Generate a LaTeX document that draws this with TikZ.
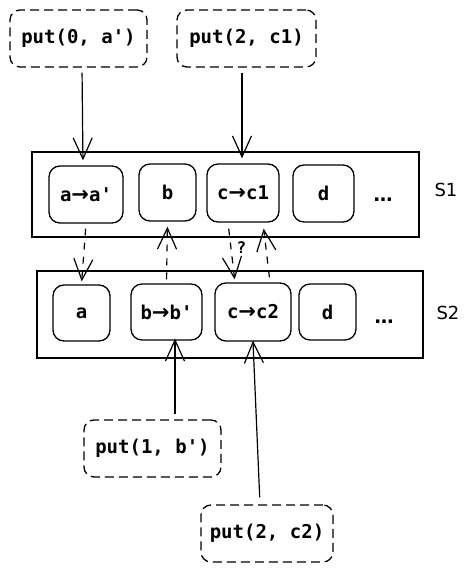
\documentclass[tikz,border=0pt]{standalone}
\usepackage{fontspec}
\setmonofont{DejaVu Sans Mono}
\setsansfont{DejaVu Sans}
\newfontfamily\arwfont{DejaVu Sans}
\newcommand{\myarw}{{\arwfont\bfseries\fontsize{21}{22}\selectfont →}}
\newcommand{\mydots}{{\arwfont\bfseries …}}
\usetikzlibrary{arrows.meta}
\begin{document}
\begin{tikzpicture}[x=1pt,y=-1pt,
  every node/.style={font=\ttfamily\bfseries\fontsize{19}{22}\selectfont, inner sep=0pt},
  putbox/.style={draw, dashed, dash pattern=on 9pt off 5pt, line width=1.3pt, rounded corners=10pt},
  cell/.style={draw, line width=1.3pt, rounded corners=11pt},
  frame/.style={draw, line width=1.3pt},
  arr/.style={line width=1.2pt, -{Straight Barb[length=21pt,width=19pt,line width=1.2pt]}},
  darr/.style={arr, dashed, dash pattern=on 7pt off 7pt},
  lbl/.style={font=\sffamily\fontsize{18}{20}\selectfont}
]
\useasboundingbox (0,0) rectangle (474,572);
% top put boxes
\node[putbox, minimum width=137pt, minimum height=57pt] (p0) at (78.5,38.5) {put(0, a')};
\node[putbox, minimum width=139pt, minimum height=57pt] (p2) at (246.5,38.5) {put(2, c1)};
% S1
\node[frame, minimum width=387pt, minimum height=85pt] (s1) at (225.5,194.5) {};
\node[cell, minimum width=74pt, minimum height=57pt] (s1a) at (86,194.5) {a\myarw a'};
\node[cell, minimum width=57pt, minimum height=57pt] (s1b) at (167.5,192.5) {b};
\node[cell, minimum width=72pt, minimum height=58pt] (s1c) at (243,193) {c\myarw c1};
\node[cell, minimum width=61pt, minimum height=57pt] (s1d) at (323.5,193.5) {d};
\node[anchor=base] (dots1) at (383,201) {\mydots};
\node[lbl] (l1) at (446,190) {S1};
% S2
\node[frame, minimum width=386pt, minimum height=87pt] (s2) at (230,314.5) {};
\node[cell, minimum width=57pt, minimum height=56pt] (s2a) at (81.5,313) {a};
\node[cell, minimum width=71pt, minimum height=56pt] (s2b) at (166.5,312) {b\myarw b'};
\node[cell, minimum width=76pt, minimum height=58pt] (s2c) at (253,312) {c\myarw c2};
\node[cell, minimum width=57pt, minimum height=56pt] (s2d) at (327.5,312) {d};
\node[anchor=base] (dots2) at (384,323) {\mydots};
\node[lbl] (l2) at (448,313) {S2};
% bottom put boxes
\node[putbox, minimum width=137pt, minimum height=57pt] (pb) at (152.5,448.5) {put(1, b')};
\node[putbox, minimum width=132pt, minimum height=57pt] (pc) at (267,533.5) {put(2, c2)};
% solid arrows
\draw[arr, shorten <=5pt, shorten >=5pt] ([xshift=3.5pt]p0.south) -- ([xshift=-3pt]s1a.north);
\draw[arr, shorten <=5pt, shorten >=5pt] ([xshift=-4.5pt]p2.south) -- ([xshift=-1pt]s1c.north);
\draw[arr, shorten <=5pt, shorten >=-2pt] ([xshift=22.5pt]pb.north) -- ([xshift=8.5pt]s2b.south);
\draw[arr, shorten <=7pt, shorten >=-1pt] ([xshift=-7pt]pc.north) -- (s2c.south);
% dashed arrows
\draw[darr, shorten <=5pt, shorten >=3pt] (s1a.south) -- (s2a.north);
\draw[darr, shorten <=4pt, shorten >=5pt] (s2b.north) -- (s1b.south);
\draw[darr, shorten <=6pt, shorten >=3pt] ([xshift=-15pt]s1c.south) -- node[pos=0.42, right=5pt, font=\ttfamily\bfseries\fontsize{16}{18}\selectfont] (q) {?} ([xshift=-18pt]s2c.north);
\draw[darr, shorten <=5pt, shorten >=6pt] ([xshift=17pt]s2c.north) -- ([xshift=20pt]s1c.south);
\end{tikzpicture}
\end{document}
